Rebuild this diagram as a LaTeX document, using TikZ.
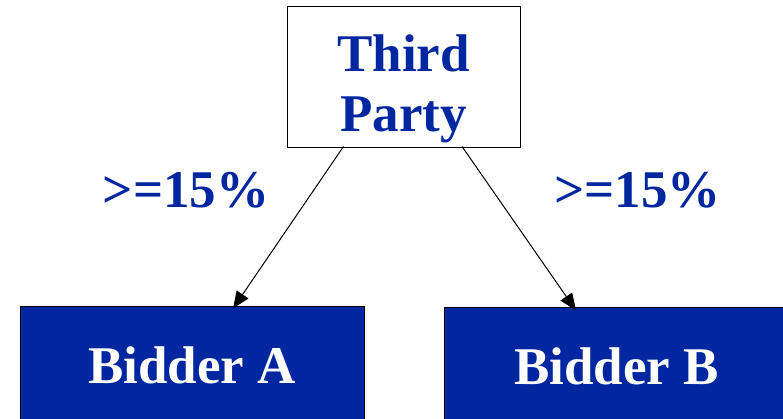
\documentclass[tikz,border=0pt]{standalone}
\usepackage{fontspec}
\setmainfont{Liberation Serif}
\usetikzlibrary{arrows.meta}
\definecolor{bidblue}{RGB}{0,38,160}

\tikzset{every path/.style={line width=1pt}}
\tikzset{bigtext/.style={font=\bfseries\fontsize{53}{60}\selectfont}}

\begin{document}
\begin{tikzpicture}[x=1pt,y=-1pt]
    \useasboundingbox (0,0) rectangle (783,419);
    \node[draw,rectangle,minimum width=233pt,minimum height=141pt,inner sep=0pt] (third) at (403.5,77.5) {};
    \node[bigtext,color=bidblue,align=center,anchor=base] (thirdtext) at (403.5,132) {Third\\Party};
    \node[draw,rectangle,fill=bidblue,bigtext,minimum width=344pt,minimum height=118pt,inner sep=0pt,text=white] (bidA) at (192,365) {Bidder A};
    \node[draw,rectangle,fill=bidblue,bigtext,minimum width=345pt,minimum height=118pt,inner sep=0pt,text=white] (bidB) at (616.5,366) {Bidder B};
    \node[bigtext,color=bidblue,anchor=base] (pctA) at (186,208) {>=15\%};
    \node[bigtext,color=bidblue,anchor=base] (pctB) at (637.5,208) {>=15\%};
    \draw[-{Triangle[length=17pt,width=14pt]}]
    ([xshift=-60pt,yshift=2pt]third.south) -- ([xshift=41pt,yshift=-3pt]bidA.north);
    \draw[-{Triangle[length=17pt,width=14pt]}]
    ([xshift=58.5pt,yshift=2pt]third.south) -- ([xshift=-40.5pt,yshift=-4pt]bidB.north);
  \end{tikzpicture}
\end{document}
